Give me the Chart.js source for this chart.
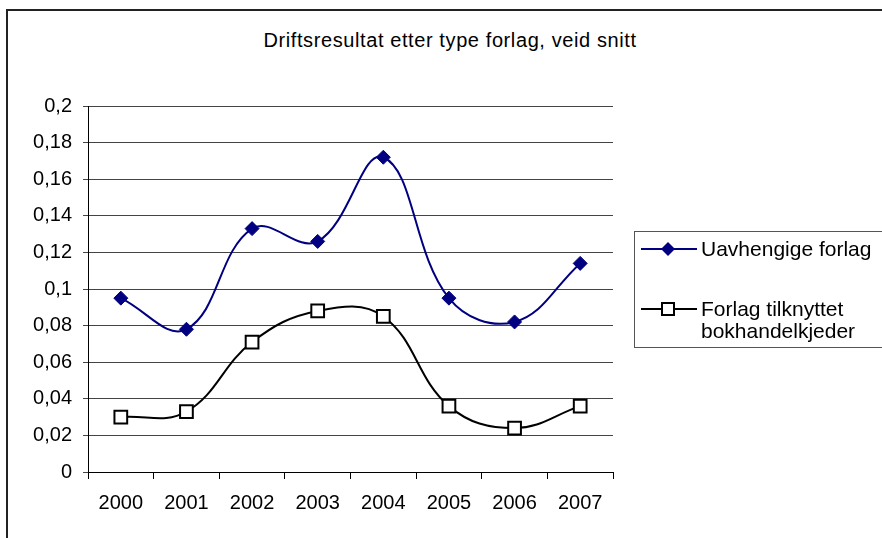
<!DOCTYPE html>
<html>
<head>
<meta charset="utf-8">
<script src="https://cdn.jsdelivr.net/npm/chart.js@4"></script>
<style>
  body { margin: 0; background: #fff; font-family: "Liberation Sans", Arial, sans-serif; }
  #wrap { position: relative; width: 882px; height: 538px; overflow: hidden; }
  #frame { position: absolute; left: 6px; top: 9px; width: 900px; height: 600px; border-left: 2px solid #222; border-top: 2px solid #222; }
  #title { position: absolute; left: 0; width: 900px; top: 29px; text-align: center; font-size: 20px; letter-spacing: 0.6px; color: #000; }
  canvas { position: absolute; left: 0; top: 0; }
  #legend { position: absolute; left: 634px; top: 231px; width: 260px; height: 115px; border: 1px solid #555; font-size: 21px; color: #000; }
  .item { position: absolute; left: 6px; display: flex; align-items: flex-start; }
  .item svg { flex: none; margin-right: 4px; }
</style>
</head>
<body>
<div id="wrap">
  <div id="frame"></div>
  <div id="title">Driftsresultat etter type forlag, veid snitt</div>
  <canvas id="chart" width="882" height="538"></canvas>
  <div id="legend"></div>
</div>
<script>
const years = ['2000', '2001', '2002', '2003', '2004', '2005', '2006', '2007'];
const uavhengige = [0.095, 0.078, 0.133, 0.126, 0.172, 0.095, 0.082, 0.114];
const bokhandel = [0.030, 0.033, 0.071, 0.088, 0.085, 0.036, 0.024, 0.036];
const yTickLabels = ['0', '0,02', '0,04', '0,06', '0,08', '0,1', '0,12', '0,14', '0,16', '0,18', '0,2'];
const seriesNames = ['Uavhengige forlag', 'Forlag tilknyttet bokhandelkjeder'];

const font = { family: '"Liberation Sans", Arial, sans-serif', size: 20 };

const ctx = document.getElementById('chart').getContext('2d');
new Chart(ctx, {
  type: 'line',
  data: {
    labels: years,
    datasets: [
      {
        label: seriesNames[0],
        data: uavhengige,
        borderColor: '#000080',
        backgroundColor: '#000080',
        borderWidth: 2,
        pointStyle: 'rectRot',
        pointRadius: 7,
        pointBorderWidth: 1,
        tension: 0.4
      },
      {
        label: seriesNames[1],
        data: bokhandel,
        borderColor: '#000',
        backgroundColor: '#fff',
        borderWidth: 2,
        pointStyle: 'rect',
        pointRadius: 9,
        pointBorderWidth: 2,
        tension: 0.4
      }
    ]
  },
  options: {
    responsive: false,
    animation: false,
    layout: { padding: { left: 0, top: 106, right: 269, bottom: 0 } },
    plugins: {
      legend: { display: false },
      title: { display: false },
      tooltip: { enabled: false }
    },
    scales: {
      x: {
        offset: true,
        grid: { offset: true, drawOnChartArea: false, drawTicks: true, tickLength: 7, color: '#000' },
        border: { color: '#000', width: 1 },
        ticks: { font: font, color: '#000', padding: 12, maxRotation: 0 },
        afterFit: (scale) => { scale.height = 66; }
      },
      y: {
        min: 0,
        max: 0.2,
        grid: { color: '#444', tickLength: 5 },
        border: { color: '#000', width: 1 },
        ticks: {
          stepSize: 0.02,
          font: font,
          color: '#000',
          padding: 11,
          callback: (value, i) => yTickLabels[i]
        },
        afterFit: (scale) => { scale.width = 88; }
      }
    }
  }
});

// legend with line + marker samples
const legend = document.getElementById('legend');
const markers = [
  '<polygon points="27,4 34,11 27,18 20,11" fill="#000080"/>',
  '<rect x="21" y="5" width="12" height="12" fill="#fff" stroke="#000" stroke-width="2"/>'
];
const colors = ['#000080', '#000'];
const tops = [6, 66];
seriesNames.forEach((name, i) => {
  const item = document.createElement('div');
  item.className = 'item';
  item.style.top = tops[i] + 'px';
  const text = i === 1 ? 'Forlag tilknyttet<br>bokhandelkjeder' : name;
  item.innerHTML =
    `<svg width="56" height="22"><line x1="0" y1="11" x2="56" y2="11" stroke="${colors[i]}" stroke-width="2"/>${markers[i]}</svg>` +
    `<div style="line-height:22px">${text}</div>`;
  legend.appendChild(item);
});
</script>
</body>
</html>
